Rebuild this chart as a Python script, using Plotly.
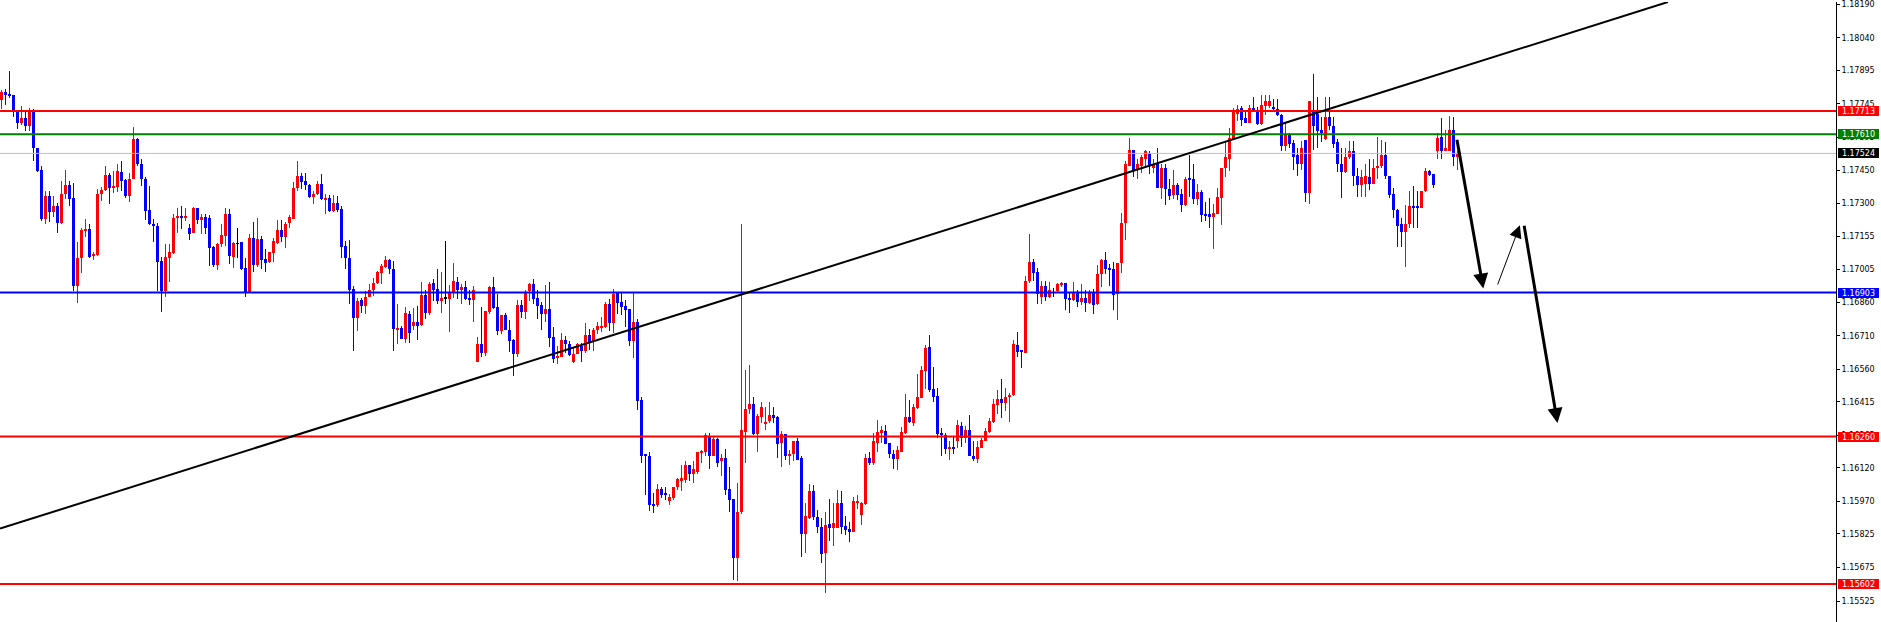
import plotly.graph_objects as go

# ---------------- data (EURUSD-like OHLC) ----------------
opens = [
1.17764,1.17800,1.17791,1.17787,1.17711,1.17662,1.17680,1.17648,1.17711,1.17550,
1.17448,1.17230,1.17332,1.17261,1.17288,1.17212,1.17341,1.17381,1.17323,1.16932,
1.17056,1.17177,1.17186,1.17065,1.17070,1.17341,1.17359,1.17426,1.17368,1.17372,
1.17439,1.17404,1.17332,1.17412,1.17590,1.17479,1.17412,1.17270,1.17208,1.17199,
1.17043,1.16910,1.17056,1.17079,1.17234,1.17243,1.17234,1.17190,1.17168,1.17279,
1.17226,1.17239,1.17234,1.17105,1.17025,1.17119,1.17154,1.17252,1.17061,1.17123,
1.17127,1.17012,1.16905,1.17145,1.17025,1.17141,1.17052,1.17039,1.17079,1.17123,
1.17181,1.17150,1.17212,1.17230,1.17368,1.17421,1.17399,1.17381,1.17328,1.17341,
1.17386,1.17314,1.17323,1.17266,1.17301,1.17274,1.17110,1.17056,1.16918,1.16789,
1.16870,1.16843,1.16883,1.16914,1.16945,1.16990,1.17016,1.17048,1.17007,1.16740,
1.16745,1.16696,1.16807,1.16754,1.16772,1.16758,1.16892,1.16812,1.16945,1.16918,
1.16865,1.16878,1.16874,1.16905,1.16950,1.16914,1.16927,1.16878,1.16870,1.16594,
1.16674,1.16634,1.16816,1.16927,1.16838,1.16732,1.16803,1.16736,1.16692,1.16629,
1.16847,1.16816,1.16910,1.16941,1.16878,1.16847,1.16807,1.16830,1.16705,1.16611,
1.16616,1.16692,1.16674,1.16594,1.16629,1.16665,1.16643,1.16714,1.16687,1.16736,
1.16745,1.16749,1.16852,1.16767,1.16901,1.16861,1.16843,1.16830,1.16687,1.16772,
1.16424,1.16180,1.16175,1.15957,1.15953,1.16024,1.16006,1.15971,1.15984,1.16033,
1.16060,1.16064,1.16131,1.16095,1.16104,1.16189,1.16189,1.16260,1.16175,1.16251,
1.16149,1.16166,1.16024,1.15980,1.15717,1.15922,1.16282,1.16384,1.16407,1.16273,
1.16349,1.16318,1.16331,1.16358,1.16349,1.16233,1.16273,1.16171,1.16184,1.16238,
1.16166,1.15824,1.15895,1.16015,1.15899,1.15855,1.15739,1.15868,1.15850,1.15850,
1.15962,1.15859,1.15846,1.15833,1.15962,1.15908,1.15957,1.16166,1.16140,1.16233,
1.16278,1.16287,1.16233,1.16184,1.16162,1.16193,1.16278,1.16349,1.16322,1.16389,
1.16433,1.16554,1.16660,1.16473,1.16442,1.16278,1.16269,1.16206,1.16215,1.16238,
1.16309,1.16255,1.16291,1.16175,1.16162,1.16211,1.16242,1.16282,1.16327,1.16402,
1.16429,1.16411,1.16438,1.16447,1.16669,1.16647,1.16634,1.16954,1.17039,1.16994,
1.16883,1.16932,1.16883,1.16901,1.16910,1.16941,1.16945,1.16878,1.16870,1.16901,
1.16861,1.16878,1.16856,1.16905,1.16852,1.16985,1.17048,1.17012,1.17007,1.16896,
1.17034,1.17212,1.17466,1.17541,1.17452,1.17466,1.17501,1.17528,1.17461,1.17475,
1.17368,1.17461,1.17363,1.17337,1.17381,1.17341,1.17292,1.17412,1.17412,1.17319,
1.17350,1.17252,1.17252,1.17239,1.17252,1.17323,1.17457,1.17501,1.17590,1.17702,
1.17728,1.17680,1.17662,1.17728,1.17719,1.17657,1.17737,1.17737,1.17733,1.17724,
1.17697,1.17559,1.17608,1.17572,1.17515,1.17479,1.17586,1.17346,1.17719,1.17702,
1.17630,1.17590,1.17688,1.17648,1.17577,1.17479,1.17439,1.17506,1.17537,1.17421,
1.17381,1.17386,1.17417,1.17386,1.17457,1.17466,1.17519,1.17421,1.17341,1.17270,
1.17208,1.17172,1.17208,1.17288,1.17288,1.17279,1.17355,1.17444,1.17430,1.17533,
1.17599,1.17537,1.17537,1.17630,1.17510]

highs = [
1.17809,1.17813,1.17893,1.17787,1.17715,1.17737,1.17711,1.17728,1.17724,1.17550,
1.17466,1.17355,1.17355,1.17332,1.17301,1.17399,1.17448,1.17399,1.17390,1.17127,
1.17190,1.17230,1.17208,1.17083,1.17363,1.17372,1.17470,1.17435,1.17444,1.17479,
1.17492,1.17412,1.17435,1.17644,1.17595,1.17497,1.17417,1.17377,1.17230,1.17212,
1.17061,1.17119,1.17119,1.17252,1.17279,1.17288,1.17279,1.17208,1.17283,1.17279,
1.17252,1.17252,1.17248,1.17110,1.17123,1.17208,1.17279,1.17274,1.17127,1.17190,
1.17127,1.17056,1.17163,1.17217,1.17234,1.17154,1.17096,1.17083,1.17145,1.17226,
1.17226,1.17217,1.17248,1.17395,1.17488,1.17435,1.17435,1.17386,1.17355,1.17399,
1.17430,1.17341,1.17337,1.17337,1.17332,1.17288,1.17132,1.17136,1.16932,1.16879,
1.16879,1.16910,1.16941,1.16967,1.16999,1.17030,1.17065,1.17052,1.17043,1.16852,
1.16754,1.16838,1.16821,1.16834,1.16843,1.16950,1.16914,1.16950,1.16963,1.17007,
1.16994,1.17132,1.16936,1.17034,1.16972,1.16941,1.16954,1.16914,1.16932,1.16705,
1.16838,1.16821,1.16932,1.16972,1.16896,1.16803,1.16812,1.16780,1.16696,1.16870,
1.16870,1.16914,1.16945,1.16963,1.16914,1.16861,1.16936,1.16950,1.16749,1.16665,
1.16723,1.16709,1.16687,1.16656,1.16678,1.16678,1.16767,1.16740,1.16745,1.16772,
1.16794,1.16861,1.16874,1.16918,1.16905,1.16901,1.16870,1.16830,1.16901,1.16785,
1.16438,1.16180,1.16193,1.16006,1.16046,1.16033,1.16033,1.16002,1.16037,1.16073,
1.16131,1.16149,1.16131,1.16153,1.16193,1.16202,1.16278,1.16278,1.16264,1.16255,
1.16184,1.16206,1.16126,1.15980,1.16051,1.17208,1.16558,1.16580,1.16438,1.16362,
1.16416,1.16393,1.16416,1.16393,1.16353,1.16287,1.16273,1.16198,1.16238,1.16255,
1.16171,1.15962,1.16046,1.16042,1.15931,1.15895,1.15922,1.15980,1.15962,1.16020,
1.16015,1.15904,1.15877,1.15988,1.15997,1.15966,1.16184,1.16189,1.16278,1.16336,
1.16309,1.16313,1.16233,1.16198,1.16220,1.16304,1.16451,1.16424,1.16407,1.16540,
1.16576,1.16669,1.16714,1.16571,1.16478,1.16296,1.16278,1.16242,1.16260,1.16336,
1.16327,1.16309,1.16358,1.16242,1.16238,1.16255,1.16300,1.16344,1.16429,1.16469,
1.16518,1.16478,1.16456,1.16692,1.16727,1.16647,1.16976,1.17163,1.17052,1.17012,
1.16954,1.16954,1.16950,1.16923,1.16945,1.16950,1.16945,1.16905,1.16950,1.16914,
1.16941,1.16914,1.16914,1.16918,1.17025,1.17052,1.17083,1.17030,1.17039,1.17034,
1.17257,1.17492,1.17595,1.17541,1.17501,1.17519,1.17541,1.17533,1.17497,1.17550,
1.17479,1.17479,1.17412,1.17452,1.17390,1.17363,1.17417,1.17519,1.17475,1.17386,
1.17359,1.17306,1.17323,1.17297,1.17368,1.17461,1.17581,1.17639,1.17728,1.17742,
1.17737,1.17711,1.17742,1.17777,1.17733,1.17786,1.17786,1.17786,1.17768,1.17768,
1.17702,1.17662,1.17613,1.17586,1.17550,1.17581,1.17586,1.17759,1.17880,1.17777,
1.17688,1.17777,1.17777,1.17688,1.17590,1.17546,1.17546,1.17581,1.17581,1.17457,
1.17452,1.17475,1.17497,1.17497,1.17599,1.17586,1.17577,1.17421,1.17368,1.17274,
1.17234,1.17292,1.17355,1.17377,1.17355,1.17355,1.17457,1.17452,1.17430,1.17613,
1.17680,1.17630,1.17693,1.17688,1.17533]

lows = [
1.17724,1.17742,1.17773,1.17688,1.17635,1.17653,1.17626,1.17622,1.17488,1.17439,
1.17221,1.17208,1.17217,1.17239,1.17168,1.17208,1.17319,1.17288,1.16910,1.16856,
1.16990,1.17150,1.17056,1.17048,1.17065,1.17310,1.17355,1.17297,1.17346,1.17350,
1.17355,1.17323,1.17306,1.17408,1.17466,1.17377,1.17226,1.17203,1.17127,1.16910,
1.16816,1.16883,1.16950,1.17074,1.17168,1.17186,1.17221,1.17136,1.17168,1.17208,
1.17163,1.17163,1.17021,1.17016,1.17003,1.17105,1.17110,1.17030,1.17012,1.17056,
1.17003,1.16883,1.16905,1.16994,1.17016,1.17007,1.16994,1.17034,1.17039,1.17119,
1.17127,1.17101,1.17190,1.17230,1.17355,1.17363,1.17359,1.17323,1.17297,1.17337,
1.17314,1.17252,1.17261,1.17261,1.17261,1.17056,1.17007,1.16852,1.16643,1.16732,
1.16812,1.16807,1.16883,1.16887,1.16941,1.16941,1.17012,1.16985,1.16643,1.16674,
1.16696,1.16678,1.16678,1.16736,1.16692,1.16754,1.16785,1.16803,1.16865,1.16852,
1.16812,1.16852,1.16727,1.16878,1.16874,1.16852,1.16870,1.16847,1.16772,1.16594,
1.16616,1.16620,1.16807,1.16830,1.16714,1.16718,1.16736,1.16638,1.16531,1.16616,
1.16789,1.16785,1.16865,1.16852,1.16785,1.16736,1.16772,1.16660,1.16589,1.16585,
1.16616,1.16634,1.16620,1.16589,1.16629,1.16594,1.16634,1.16647,1.16643,1.16718,
1.16727,1.16745,1.16732,1.16723,1.16807,1.16803,1.16749,1.16665,1.16611,1.16380,
1.16144,1.15997,1.15926,1.15917,1.15944,1.15984,1.15975,1.15953,1.15975,1.16020,
1.16015,1.16051,1.16060,1.16051,1.16095,1.16140,1.16175,1.16113,1.16171,1.16122,
1.16082,1.15997,1.15922,1.15619,1.15615,1.15913,1.16144,1.16362,1.16269,1.16193,
1.16322,1.16291,1.16322,1.16322,1.16166,1.16126,1.16157,1.16135,1.16153,1.16157,
1.15721,1.15739,1.15890,1.15886,1.15828,1.15695,1.15561,1.15793,1.15770,1.15850,
1.15824,1.15819,1.15788,1.15833,1.15935,1.15864,1.15953,1.16135,1.16135,1.16189,
1.16233,1.16229,1.16166,1.16117,1.16109,1.16189,1.16273,1.16322,1.16309,1.16384,
1.16433,1.16473,1.16460,1.16416,1.16255,1.16171,1.16184,1.16157,1.16184,1.16211,
1.16215,1.16233,1.16171,1.16149,1.16140,1.16211,1.16238,1.16278,1.16322,1.16362,
1.16344,1.16376,1.16327,1.16442,1.16616,1.16567,1.16634,1.16945,1.16954,1.16852,
1.16852,1.16865,1.16878,1.16883,1.16905,1.16927,1.16825,1.16812,1.16865,1.16838,
1.16847,1.16816,1.16852,1.16807,1.16847,1.16927,1.16985,1.16932,1.16825,1.16780,
1.16990,1.17136,1.17466,1.17417,1.17408,1.17435,1.17466,1.17430,1.17435,1.17368,
1.17319,1.17292,1.17314,1.17319,1.17314,1.17261,1.17288,1.17328,1.17297,1.17292,
1.17217,1.17221,1.17190,1.17096,1.17252,1.17203,1.17417,1.17444,1.17586,1.17670,
1.17648,1.17662,1.17662,1.17711,1.17653,1.17653,1.17697,1.17728,1.17711,1.17693,
1.17537,1.17537,1.17546,1.17452,1.17421,1.17448,1.17306,1.17297,1.17541,1.17546,
1.17577,1.17586,1.17630,1.17546,1.17439,1.17323,1.17435,1.17501,1.17377,1.17328,
1.17328,1.17328,1.17359,1.17386,1.17408,1.17457,1.17408,1.17323,1.17234,1.17105,
1.17105,1.17016,1.17190,1.17190,1.17190,1.17279,1.17350,1.17421,1.17368,1.17501,
1.17501,1.17533,1.17533,1.17466,1.17452]

closes = [
1.17796,1.17787,1.17782,1.17715,1.17662,1.17680,1.17648,1.17711,1.17546,1.17444,
1.17230,1.17332,1.17261,1.17288,1.17212,1.17341,1.17381,1.17319,1.16932,1.17056,
1.17181,1.17186,1.17061,1.17074,1.17341,1.17359,1.17426,1.17368,1.17377,1.17444,
1.17399,1.17332,1.17412,1.17590,1.17475,1.17408,1.17266,1.17208,1.17203,1.17039,
1.16910,1.17061,1.17083,1.17234,1.17243,1.17234,1.17243,1.17163,1.17279,1.17226,
1.17239,1.17190,1.17101,1.17025,1.17119,1.17159,1.17252,1.17065,1.17123,1.17123,
1.17007,1.16905,1.17145,1.17025,1.17141,1.17048,1.17034,1.17083,1.17132,1.17181,
1.17150,1.17208,1.17239,1.17368,1.17421,1.17395,1.17381,1.17328,1.17341,1.17386,
1.17319,1.17323,1.17266,1.17301,1.17270,1.17105,1.17056,1.16914,1.16789,1.16865,
1.16843,1.16883,1.16914,1.16945,1.16994,1.17021,1.17048,1.17007,1.16740,1.16745,
1.16696,1.16812,1.16723,1.16772,1.16754,1.16892,1.16812,1.16941,1.16914,1.16865,
1.16878,1.16878,1.16905,1.16954,1.16914,1.16927,1.16874,1.16870,1.16914,1.16674,
1.16634,1.16821,1.16927,1.16834,1.16732,1.16803,1.16736,1.16687,1.16629,1.16847,
1.16816,1.16905,1.16941,1.16874,1.16843,1.16807,1.16830,1.16700,1.16607,1.16620,
1.16692,1.16674,1.16625,1.16629,1.16674,1.16643,1.16714,1.16683,1.16736,1.16754,
1.16754,1.16852,1.16767,1.16896,1.16856,1.16838,1.16825,1.16687,1.16772,1.16420,
1.16175,1.16171,1.15953,1.15953,1.16024,1.15997,1.15997,1.15988,1.16033,1.16069,
1.16073,1.16131,1.16095,1.16113,1.16193,1.16193,1.16269,1.16175,1.16251,1.16144,
1.16166,1.16020,1.15975,1.15717,1.15922,1.16291,1.16384,1.16407,1.16273,1.16353,
1.16393,1.16327,1.16358,1.16344,1.16229,1.16273,1.16171,1.16184,1.16238,1.16157,
1.15824,1.15904,1.16015,1.15899,1.15855,1.15735,1.15864,1.15850,1.15873,1.15962,
1.15855,1.15842,1.15833,1.15971,1.15971,1.15962,1.16166,1.16140,1.16242,1.16282,
1.16291,1.16229,1.16184,1.16162,1.16202,1.16282,1.16349,1.16327,1.16393,1.16438,
1.16558,1.16656,1.16469,1.16438,1.16273,1.16269,1.16206,1.16215,1.16206,1.16313,
1.16255,1.16291,1.16171,1.16162,1.16215,1.16246,1.16287,1.16331,1.16407,1.16429,
1.16411,1.16438,1.16447,1.16674,1.16638,1.16638,1.16954,1.17039,1.16990,1.16896,
1.16932,1.16883,1.16914,1.16901,1.16941,1.16945,1.16874,1.16874,1.16901,1.16861,
1.16878,1.16856,1.16905,1.16847,1.16985,1.17048,1.17007,1.17003,1.16892,1.17034,
1.17212,1.17475,1.17541,1.17452,1.17475,1.17506,1.17533,1.17466,1.17475,1.17368,
1.17461,1.17363,1.17332,1.17381,1.17337,1.17292,1.17412,1.17408,1.17319,1.17350,
1.17248,1.17243,1.17239,1.17257,1.17328,1.17461,1.17506,1.17595,1.17711,1.17724,
1.17675,1.17662,1.17728,1.17715,1.17657,1.17742,1.17759,1.17759,1.17724,1.17697,
1.17559,1.17608,1.17568,1.17510,1.17479,1.17550,1.17346,1.17759,1.17648,1.17622,
1.17613,1.17688,1.17648,1.17568,1.17479,1.17439,1.17506,1.17537,1.17421,1.17381,
1.17417,1.17421,1.17386,1.17457,1.17470,1.17519,1.17421,1.17337,1.17270,1.17199,
1.17172,1.17208,1.17288,1.17279,1.17279,1.17355,1.17444,1.17426,1.17381,1.17595,
1.17537,1.17546,1.17630,1.17510,1.17524]

# horizontal price levels and their labels
level_prices = [1.17713, 1.17610, 1.17524, 1.16903, 1.16260, 1.15602]
level_line_colors = ["#FF0000", "#008000", "#C0C0C0", "#0000FF", "#FF0000", "#FF0000"]
level_label_colors = ["#FF0000", "#008000", "#000000", "#0000FF", "#FF0000", "#FF0000"]
level_widths = [2, 2, 1, 2, 2, 2]

# price-axis ticks
tick_values = [1.18190, 1.18040, 1.17895, 1.17745, 1.17595, 1.17450, 1.17300, 1.17155,
               1.17005, 1.16860, 1.16710, 1.16560, 1.16415, 1.16265, 1.16120, 1.15970,
               1.15825, 1.15675, 1.15525]

# trend line (bar index, price)
trend_index = [-0.375, 416.6]
trend_price = [1.15849, 1.18200]

# projected path arrows: (tail index, tail price, head index, head price, width)
arrow_tail_index = [363.8, 373.9, 380.6]
arrow_tail_price = [1.17592, 1.16932, 1.17208]
arrow_head_index = [370.45, 379.6, 389.0]
arrow_head_price = [1.16921, 1.17203, 1.16320]
arrow_widths = [3, 1, 3]

# visible window
x_range = [-0.375, 458.625]
y_range = [1.154321, 1.18200]

# ---------------- figure ----------------
n = len(opens)
idx = list(range(n))
colors = []
for o, c in zip(opens, closes):
    if c > o:
        colors.append("#FF0000")
    elif c < o:
        colors.append("#0000FF")
    else:
        colors.append("#000000")

wick_base = [min(l, o, c) for l, o, c in zip(lows, opens, closes)]
wick_len = [max(h, o, c) - b for h, o, c, b in zip(highs, opens, closes, wick_base)]
body_base = [min(o, c) for o, c in zip(opens, closes)]
body_len = [max(abs(c - o), 0.00001) for o, c in zip(opens, closes)]

fig = go.Figure()
fig.add_trace(go.Bar(x=idx, y=wick_len, base=wick_base, width=0.25,
                     marker=dict(color=colors, line=dict(width=0)),
                     hoverinfo="skip", showlegend=False))
fig.add_trace(go.Bar(x=idx, y=body_len, base=body_base, width=0.75,
                     marker=dict(color=colors, line=dict(width=0)),
                     hoverinfo="skip", showlegend=False))

shapes = []
for p, col, w in zip(level_prices, level_line_colors, level_widths):
    shapes.append(dict(type="line", xref="paper", yref="y", x0=0, x1=1, y0=p, y1=p,
                       line=dict(color=col, width=w), layer="above"))
shapes.append(dict(type="line", xref="x", yref="y",
                   x0=trend_index[0], y0=trend_price[0], x1=trend_index[1], y1=trend_price[1],
                   line=dict(color="#000000", width=2), layer="above"))

annotations = []
for p, col in zip(level_prices, level_label_colors):
    annotations.append(dict(xref="paper", yref="y", x=1, y=p, xanchor="left", yanchor="middle",
                            xshift=2, text=f"{p:.5f}", showarrow=False,
                            font=dict(family="DejaVu Sans", size=8, color="#FFFFFF"),
                            bgcolor=col, width=41, height=10, borderpad=0, borderwidth=0,
                            align="center"))
for ti, tp, hi, hp, w in zip(arrow_tail_index, arrow_tail_price, arrow_head_index,
                             arrow_head_price, arrow_widths):
    annotations.append(dict(xref="x", yref="y", axref="x", ayref="y",
                            x=hi, y=hp, ax=ti, ay=tp, text="", showarrow=True,
                            arrowhead=2, arrowsize=1.0 if w > 1 else 2.5, arrowwidth=w,
                            arrowcolor="#000000", standoff=0, startstandoff=0))

fig.update_layout(
    width=1881, height=622,
    margin=dict(l=0, r=45, t=0, b=0),
    paper_bgcolor="#FFFFFF", plot_bgcolor="#FFFFFF",
    barmode="overlay", bargap=0,
    shapes=shapes, annotations=annotations,
    showlegend=False,
    xaxis=dict(range=x_range, visible=False, showgrid=False, zeroline=False, fixedrange=True),
    yaxis=dict(range=y_range, side="right", showgrid=False, zeroline=False,
               showline=True, linecolor="#000000", linewidth=1,
               ticks="outside", ticklen=3, tickcolor="#000000", tickwidth=1,
               tickvals=tick_values, ticktext=[f"{v:.5f}" for v in tick_values],
               tickfont=dict(family="DejaVu Sans", size=8, color="#000000"),
               ticklabeloverflow="allow", fixedrange=True),
)

fig.write_html("out.html", config={"displayModeBar": False},
               post_script="document.body.style.margin='0';document.body.style.overflow='hidden';")
